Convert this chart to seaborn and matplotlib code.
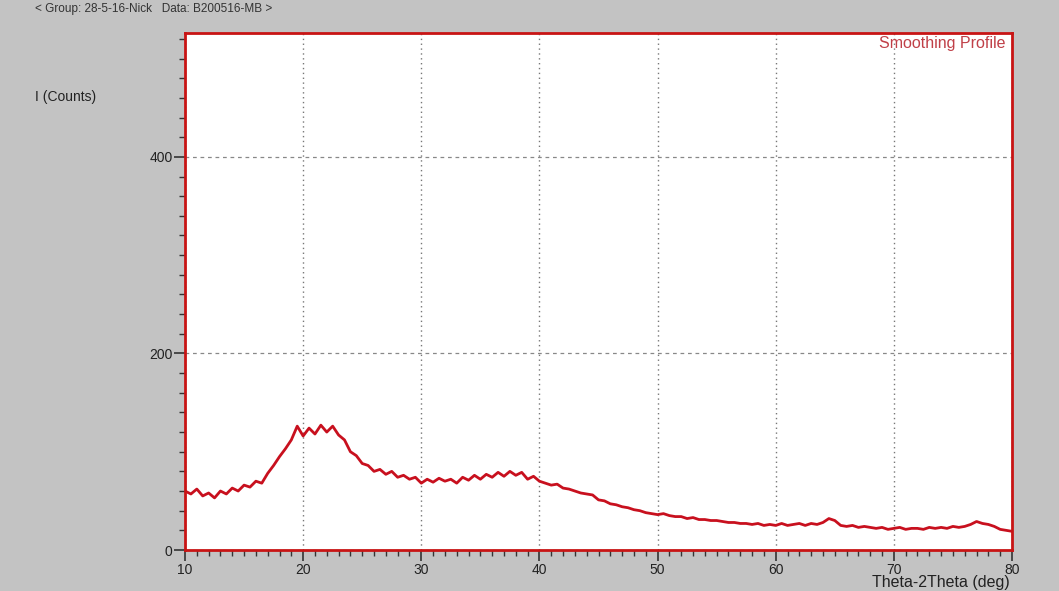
import numpy as np
import pandas as pd
import matplotlib
matplotlib.use("Agg")
import matplotlib.pyplot as plt
from matplotlib.ticker import MultipleLocator
import seaborn as sns

# ---- data ----
two_theta_start = 10.0
two_theta_step = 0.5
intensity = [
    60, 57, 62, 55, 58, 53, 60, 57, 63, 60,          # 10.0 - 14.5
    66, 64, 70, 68, 78, 86, 95, 103, 112, 126,       # 15.0 - 19.5
    116, 124, 118, 127, 120, 126, 117, 112, 100, 96,  # 20.0 - 24.5
    88, 86, 80, 82, 77, 80, 74, 76, 72, 74,          # 25.0 - 29.5
    68, 72, 69, 73, 70, 72, 68, 74, 71, 76,          # 30.0 - 34.5
    72, 77, 74, 79, 75, 80, 76, 79, 72, 75,          # 35.0 - 39.5
    70, 68, 66, 67, 63, 62, 60, 58, 57, 56,          # 40.0 - 44.5
    51, 50, 47, 46, 44, 43, 41, 40, 38, 37,          # 45.0 - 49.5
    36, 37, 35, 34, 34, 32, 33, 31, 31, 30,          # 50.0 - 54.5
    30, 29, 28, 28, 27, 27, 26, 27, 25, 26,          # 55.0 - 59.5
    25, 27, 25, 26, 27, 25, 27, 26, 28, 32,          # 60.0 - 64.5
    30, 25, 24, 25, 23, 24, 23, 22, 23, 21,          # 65.0 - 69.5
    22, 23, 21, 22, 22, 21, 23, 22, 23, 22,          # 70.0 - 74.5
    24, 23, 24, 26, 29, 27, 26, 24, 21, 20,          # 75.0 - 79.5
    19,                                               # 80.0
]
two_theta = two_theta_start + two_theta_step * np.arange(len(intensity))

x_ticks = [10, 20, 30, 40, 50, 60, 70, 80]
y_ticks = [0, 200, 400]
title_text = "< Group: 28-5-16-Nick   Data: B200516-MB >"
y_label = "I (Counts)"
x_label = "Theta-2Theta (deg)"
corner_label = "Smoothing Profile"

df = pd.DataFrame({"two_theta": two_theta, "counts": intensity})

# ---- styling ----
sns.set_theme(style="ticks")
plt.rcParams["font.family"] = ["Liberation Sans", "DejaVu Sans"]

bg = "#c3c3c3"
fig = plt.figure(figsize=(10.59, 5.91), dpi=100, facecolor=bg)
ax = fig.add_axes([185 / 1059, 1 - 550 / 591, (1012 - 185) / 1059, (550 - 33) / 591])
ax.set_facecolor("white")

sns.lineplot(data=df, x="two_theta", y="counts", ax=ax, color="#c8101e",
             linewidth=2.0, estimator=None)

ax.set_xlim(10, 80)
ax.set_ylim(0, 526)

ax.set_xticks(x_ticks)
ax.set_yticks(y_ticks)
ax.xaxis.set_minor_locator(MultipleLocator(1))
ax.yaxis.set_minor_locator(MultipleLocator(20))

ax.tick_params(axis="both", which="major", length=8, width=1.2, color="#333333",
               labelsize=10, labelcolor="#222222", direction="out", pad=1)
ax.tick_params(axis="both", which="minor", length=4, width=1.0, color="#333333",
               direction="out")

ax.xaxis.grid(True, which="major", linestyle=(0, (1, 2.5)), color="#777777", linewidth=1.0)
ax.yaxis.grid(True, which="major", linestyle=(0, (3, 3)), color="#888888", linewidth=0.9)

for s in ax.spines.values():
    s.set_color("#c81414")
    s.set_linewidth(2.0)

ax.set_xlabel("")
ax.set_ylabel("")

ax.text(0.992, 0.995, corner_label, transform=ax.transAxes, ha="right", va="top",
        fontsize=11.5, color="#c04048")

fig.text(35 / 1059, 1 - 9 / 591, title_text, ha="left", va="center", fontsize=8.5,
         color="#333333")
fig.text(35 / 1059, 1 - 97 / 591, y_label, ha="left", va="center", fontsize=10,
         color="#222222")
fig.text(1010 / 1059, 1 / 591, x_label, ha="right", va="bottom", fontsize=11.5,
         color="#222222")

fig.savefig("out.png", dpi=100, facecolor=bg)
